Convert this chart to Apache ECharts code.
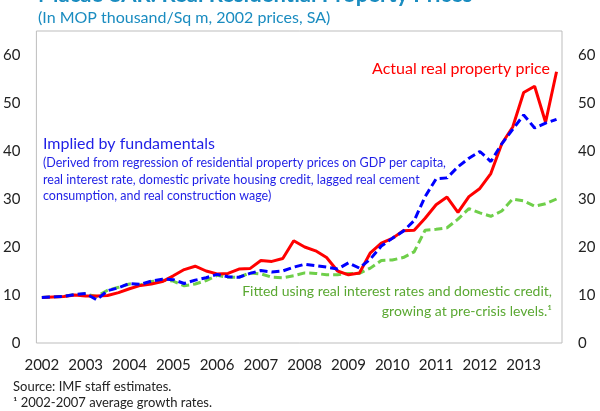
<!DOCTYPE html>
<html>
<head>
<meta charset="utf-8">
<script src="https://cdn.jsdelivr.net/npm/echarts@6/dist/echarts.min.js"></script>
<style>
  html, body { margin: 0; padding: 0; background: #fff; }
  #main { width: 600px; height: 411px; }
</style>
</head>
<body>
<div id="main"></div>
<script>
// quarterly, 2002Q1 - 2013Q4
var years = ["2002", "2003", "2004", "2005", "2006", "2007", "2008", "2009", "2010", "2011", "2012", "2013"];

var actualPrice = [
  9.5, 9.6, 9.7, 10.0, 9.8, 9.8, 9.9, 10.5, 11.3, 12.0, 12.3, 12.8,
  14.0, 15.3, 16.0, 15.0, 14.4, 14.5, 15.4, 15.5, 17.2, 17.0, 17.6, 21.3,
  20.0, 19.2, 17.8, 15.0, 14.2, 14.6, 18.8, 20.8, 21.8, 23.4, 23.5, 26.0,
  28.8, 30.4, 27.2, 30.5, 32.2, 35.3, 41.5, 45.0, 52.2, 53.5, 46.0, 56.5
];
var impliedFundamentals = [
  9.5, 9.6, 9.7, 10.1, 10.3, 9.0, 10.9, 11.5, 12.4, 12.2, 12.9, 13.3,
  13.2, 12.4, 13.1, 13.6, 14.3, 13.8, 13.7, 14.5, 15.1, 14.8, 15.0, 15.8,
  16.4, 16.1, 15.8, 15.4, 16.7, 15.6, 17.5, 20.2, 21.8, 23.3, 25.5, 30.5,
  34.2, 34.4, 36.7, 38.5, 39.9, 37.8, 41.5, 44.5, 47.5, 44.8, 45.8, 46.6
];
var fittedPreCrisis = [
  9.5, 9.6, 9.7, 10.1, 10.2, 9.7, 11.0, 11.6, 12.3, 12.1, 12.8, 13.1,
  12.9, 11.9, 12.3, 13.0, 14.1, 13.7, 13.7, 14.6, 14.4, 13.7, 13.6, 14.0,
  14.6, 14.5, 14.2, 14.2, 14.5, 14.5, 15.6, 17.2, 17.3, 17.8, 19.0, 23.5,
  23.7, 24.0, 25.8, 28.0, 27.1, 26.4, 27.5, 30.0, 29.6, 28.5, 29.0, 30.0
];
var yTicks = [0, 10, 20, 30, 40, 50, 60];

var quarters = [];
years.forEach(function (y) {
  for (var q = 1; q <= 4; q++) quarters.push(y + "Q" + q);
});

var FONT = "Lato";
var chart = echarts.init(document.getElementById("main"));

var yAxisBase = {
  type: "value",
  min: 0,
  max: 65,
  interval: 10,
  axisLine: { show: false },
  axisTick: { show: false },
  splitLine: { show: false },
  axisLabel: {
    showMaxLabel: false,
    color: "#222",
    fontSize: 15,
    fontFamily: FONT,
    margin: 16,
    formatter: function (v) { return yTicks.indexOf(v) >= 0 ? String(v) : ""; }
  }
};

var option = {
  animation: false,
  grid: {
    left: 32, right: 38, top: 31, bottom: 68,
    show: true, borderColor: "#bdbdbd", borderWidth: 1
  },
  xAxis: {
    type: "category",
    data: quarters,
    boundaryGap: true,
    axisLine: { show: false },
    axisTick: { show: false },
    axisLabel: {
      interval: 3,
      color: "#222",
      fontSize: 15,
      fontFamily: FONT,
      margin: 15,
      formatter: function (v) { return v.slice(0, 4); }
    }
  },
  yAxis: [
    Object.assign({}, yAxisBase, { position: "left" }),
    Object.assign({}, yAxisBase, { position: "right" })
  ],
  series: [
    {
      name: "Fitted", type: "line", data: fittedPreCrisis, symbol: "none",
      lineStyle: { color: "#6fcf4a", width: 3, type: [8, 4] }
    },
    {
      name: "Actual", type: "line", data: actualPrice, symbol: "none",
      lineStyle: { color: "#ff0000", width: 3 }
    },
    {
      name: "Implied", type: "line", data: impliedFundamentals, symbol: "none",
      lineStyle: { color: "#0000ff", width: 3, type: [8, 4] }
    }
  ],
  graphic: [
    { type: "text", left: 38, top: -16, style: { text: "Macao SAR: Real Residential Property Prices", fill: "#1a8cc0", font: "bold 22px " + FONT } },
    { type: "text", left: 38, top: 10, style: { text: "(In MOP thousand/Sq m, 2002 prices, SA)", fill: "#1a8cc0", font: "16px " + FONT } },
    { type: "text", right: 50, top: 61, style: { text: "Actual real property price", fill: "#ff0000", font: "16px " + FONT } },
    { type: "text", left: 43, top: 136, style: { text: "Implied by fundamentals", fill: "#1f1fe6", font: "16px " + FONT } },
    {
      type: "text", left: 43, top: 155,
      style: {
        text: "(Derived from regression of residential property prices on GDP per capita,\nreal interest rate, domestic private housing credit, lagged real cement\nconsumption, and real construction wage)",
        fill: "#1f1fe6", font: "12.5px " + FONT, lineHeight: 16.5
      }
    },
    { type: "text", right: 48, top: 284, style: { text: "Fitted using real interest rates and domestic credit,", fill: "#5aa832", font: "14px " + FONT } },
    { type: "text", right: 48, top: 304, style: { text: "growing at pre-crisis levels.\u00b9", fill: "#5aa832", font: "14px " + FONT } },
    { type: "text", left: 13, top: 380, style: { text: "Source: IMF staff estimates.", fill: "#222", font: "13px " + FONT } },
    { type: "text", left: 13, top: 396, style: { text: "\u00b9 2002-2007 average growth rates.", fill: "#222", font: "13px " + FONT } }
  ]
};

chart.setOption(option);
</script>
</body>
</html>
